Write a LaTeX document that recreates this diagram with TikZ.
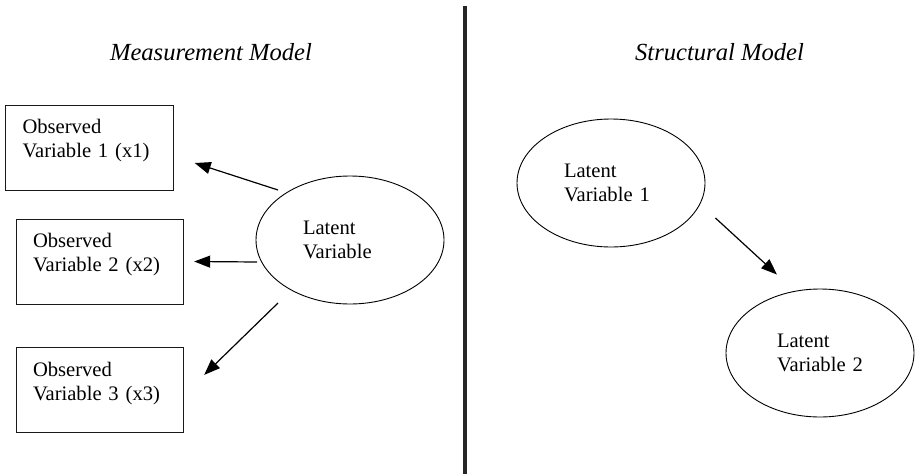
\documentclass[tikz,border=0pt]{standalone}
\usepackage{fontspec}
\setmainfont{Liberation Serif}
\usepackage{tikz}
\usetikzlibrary{positioning,arrows.meta,shapes.geometric,calc}

\begin{document}
\begin{tikzpicture}[
  x=1pt, y=-1pt,
  font=\rmfamily\fontsize{20.6}{24.7}\selectfont,
  >={Triangle[length=16pt, width=12pt]},
  obsbox/.style={draw=black!90, line width=0.9pt, rectangle, align=left,
                 inner sep=0pt, minimum width=167.5pt, minimum height=85pt,
                 text width=134pt, text depth=43pt},
  latent/.style={draw=black, line width=0.9pt, ellipse, align=left,
                 inner sep=0pt, minimum width=188pt, minimum height=128pt,
                 text width=94pt},
  title/.style={font=\rmfamily\fontsize{24.6}{29}\selectfont\itshape, anchor=base},
  link/.style={->, line width=1.2pt},
  divider/.style={line width=4pt, draw=black!85},
]
\useasboundingbox (0,0) rectangle (915,474);

% ---- panel titles ----
\node[title] (mtitle) at (211,60) {Measurement Model};
\node[title] (stitle) at (719.5,60) {Structural Model};

% ---- measurement model ----
\node[obsbox] (obs1) at (89.5,147.5) {Observed\\Variable 1 (x1)};
\node[obsbox] (obs2) at (100,261.5) {Observed\\Variable 2 (x2)};
\node[obsbox, below=43pt of obs2] (obs3) {Observed\\Variable 3 (x3)};
\node[latent] (lat) at (350,240) {Latent\\Variable};

\draw[link] ([shift={(-72,-50)}]lat.center) -- ([shift={(21,15.5)}]obs1.east);
\draw[link] ([shift={(-93,22)}]lat.center) -- ([shift={(10,0)}]obs2.east);
\draw[link] ([shift={(-72,63)}]lat.center) -- ([shift={(20,-15.5)}]obs3.east);

% ---- divider ----
\draw[divider] (465,6) -- (465,474);

% ---- structural model ----
\node[latent] (lv1) at (611,183) {Latent\\Variable 1};
\node[latent, text width=86pt] (lv2) at (820,353) {Latent\\Variable 2};

\draw[link] ([shift={(10,35)}]lv1.east) -- ([shift={(-43,-14)}]lv2.north);

\end{tikzpicture}
\end{document}
